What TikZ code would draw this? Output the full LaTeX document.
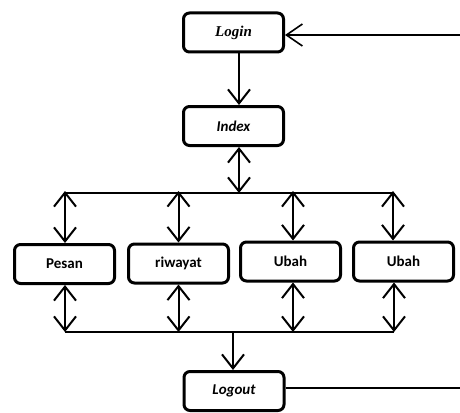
\documentclass[tikz,border=0pt]{standalone}
\usepackage{fontspec}
\newfontfamily\carlito{Carlito}
\newfontfamily\timesf{Liberation Serif}
\usetikzlibrary{arrows.meta}
\begin{document}
\begin{tikzpicture}[x=1pt,y=-1pt,
  box/.style={draw, line width=3pt, rounded corners=6pt, minimum width=100pt, minimum height=39pt, inner sep=0pt, font=\carlito\bfseries\fontsize{15}{17}\selectfont},
  arr/.style={line width=2pt, -{Straight Barb[length=14pt,width=22pt]}},
  darr/.style={line width=2pt, {Straight Barb[length=14pt,width=22pt]}-{Straight Barb[length=14pt,width=22pt]}},
  bus/.style={line width=1.4pt}]
\useasboundingbox (0,0) rectangle (460,412);
\node[box, font=\timesf\bfseries\itshape\fontsize{15}{17}\selectfont] (login) at (233.5,32.5) {Login};
\node[box, font=\carlito\bfseries\itshape\fontsize{15}{17}\selectfont] (index) at (233.5,126) {Index};
\node[box] (pesan) at (64.5,264) {Pesan};
\node[box] (riwayat) at (178.5,263.5) {riwayat};
\node[box] (ubah1) at (290.5,261.5) {Ubah};
\node[box] (ubah2) at (403.5,261.5) {Ubah};
\node[box, font=\carlito\bfseries\itshape\fontsize{15}{17}\selectfont] (logout) at (234,391) {Logout};
% bus coordinates
\coordinate (tl) at (65,193);
\coordinate (tr) at (393,193);
\coordinate (tm) at (239,193);
\coordinate (bl) at (65,332);
\coordinate (br) at (394,332);
\coordinate (bm) at (233,332);
\coordinate (rt) at (460,35);
\coordinate (rb) at (460,388);
% buses
\draw[bus] (tl) -- (tr);
\draw[bus] (bl) -- (br);
% login -> index
\draw[arr] ([xshift=5.5pt]login.south) -- ([xshift=5.5pt]index.north);
\draw[darr] ([xshift=5.5pt]index.south) -- (tm);
% top bus to boxes
\draw[darr] ([yshift=2pt]tl) -- (tl |- pesan.north);
\draw[darr] ([yshift=2pt]tl -| riwayat) -- (riwayat.north);
\draw[darr] ([yshift=2pt]tl -| 293,0) -- (293,0 |- ubah1.north);
\draw[darr] ([yshift=2pt]tr) -- (tr |- ubah2.north);
% boxes to bottom bus
\draw[darr] (bl |- pesan.south) -- (bl);
\draw[darr] (riwayat.south) -- (riwayat |- bl);
\draw[darr] (293,0 |- ubah1.south) -- (293,0 |- bl);
\draw[darr] (br |- ubah2.south) -- (br);
% to logout
\draw[arr] (bm) -- (bm |- logout.north);
% right return line
\draw[bus] (logout.east |- rb) -- (rb);
\draw[line width=1.6pt, -{Straight Barb[length=16pt,width=22pt]}] (rt) -- (login.east |- rt);
\end{tikzpicture}
\end{document}
